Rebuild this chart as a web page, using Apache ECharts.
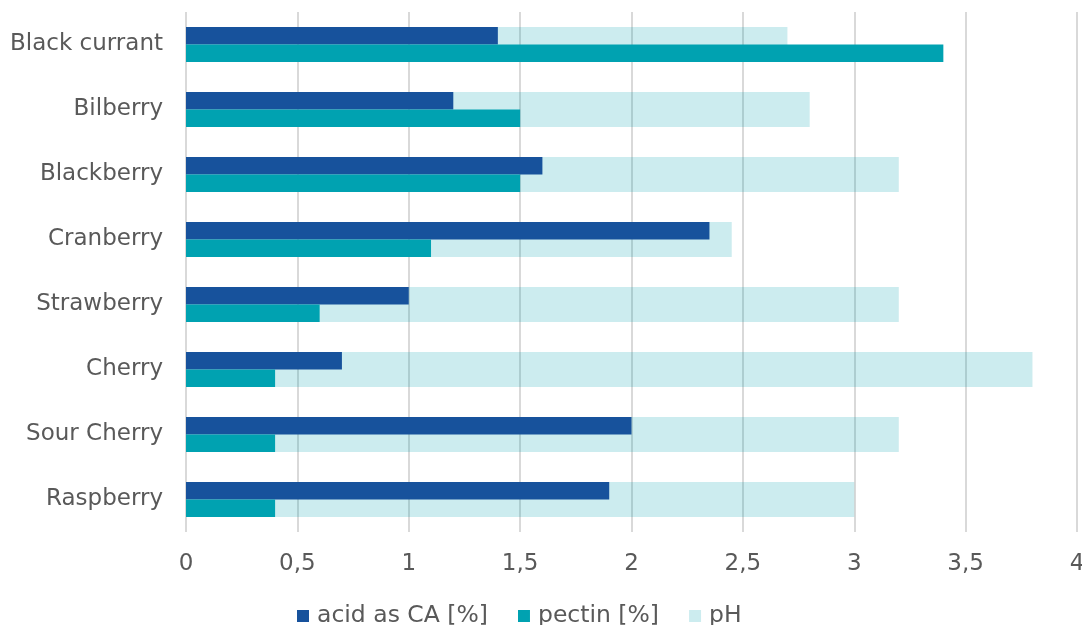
<!DOCTYPE html>
<html>
<head>
<meta charset="utf-8">
<script src="https://cdn.jsdelivr.net/npm/echarts@6/dist/echarts.min.js"></script>
<style>
html,body{margin:0;padding:0;background:#fff;}
#chart{width:1082px;height:625px;}
</style>
</head>
<body>
<div id="chart"></div>
<script>
const categories = ['Black currant','Bilberry','Blackberry','Cranberry','Strawberry','Cherry','Sour Cherry','Raspberry'];
const acidValues = [1.4, 1.2, 1.6, 2.35, 1.0, 0.7, 2.0, 1.9];
const pectinValues = [3.4, 1.5, 1.5, 1.1, 0.6, 0.4, 0.4, 0.4];
const phValues = [2.7, 2.8, 3.2, 2.45, 3.2, 3.8, 3.2, 3.0];
const seriesNames = ['acid as CA [%]', 'pectin [%]', 'pH'];

const FONT = 'DejaVu Sans';
const TXT = '#595959';
const chart = echarts.init(document.getElementById('chart'), null, {renderer:'canvas'});
chart.setOption({
  animation: false,
  backgroundColor: '#ffffff',
  grid: {left: 186, right: 5, top: 12, bottom: 93, containLabel: false, outerBoundsMode: 'none'},
  legend: {
    left: 292, top: 599,
    itemWidth: 12, itemHeight: 12, itemGap: 30,
    icon: 'rect',
    textStyle: {fontFamily: FONT, fontSize: 23.5, color: TXT, padding: [0,0,0,3]},
    data: seriesNames
  },
  xAxis: {
    type: 'value', min: 0, max: 4, interval: 0.5,
    axisLine: {show: false}, axisTick: {show: false},
    axisLabel: {
      fontFamily: FONT, fontSize: 23, color: TXT, margin: 21,
      formatter: v => String(v).replace('.', ',')
    },
    splitLine: {show: true, lineStyle: {color: '#d9d9d9', width: 2}}
  },
  yAxis: [
    {
      type: 'category', data: categories, inverse: true,
      axisLine: {show: false}, axisTick: {show: false},
      axisLabel: {fontFamily: FONT, fontSize: 23, color: TXT, margin: 23}
    },
    {
      type: 'category', data: categories, inverse: true, show: false
    }
  ],
  series: [
    {
      name: seriesNames[0], type: 'bar', yAxisIndex: 0, data: acidValues,
      barWidth: 17.5, barGap: '0%', z: 3,
      itemStyle: {color: '#17529c'}
    },
    {
      name: seriesNames[1], type: 'bar', yAxisIndex: 0, data: pectinValues,
      barWidth: 17.5, barGap: '0%', z: 3,
      itemStyle: {color: '#00a2b1'}
    },
    {
      name: seriesNames[2], type: 'bar', yAxisIndex: 1, data: phValues,
      barWidth: 35, z: 1,
      itemStyle: {color: 'rgba(0,160,176,0.2)'}
    }
  ]
});
</script>
</body>
</html>
